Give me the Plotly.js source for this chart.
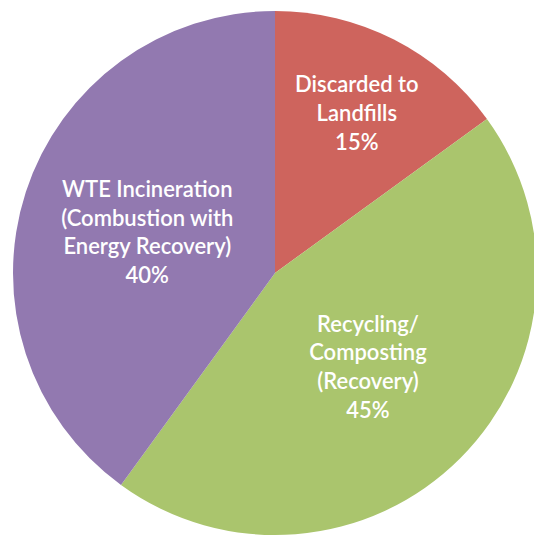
<!DOCTYPE html>
<html>
<head>
<meta charset="utf-8">
<script src="https://cdn.plot.ly/plotly-3.0.1.min.js"></script>
<style>
html,body{margin:0;padding:0;overflow:hidden;background:#fff;}
#chart{width:540px;height:540px;}
</style>
</head>
<body>
<div id="chart"></div>
<script>
const categories = ["Discarded to Landfills", "Recycling/ Composting (Recovery)", "WTE Incineration (Combustion with Energy Recovery)"];
const labelLines = ["Discarded to<br>Landfills", "Recycling/<br>Composting<br>(Recovery)", "WTE Incineration<br>(Combustion with<br>Energy Recovery)"];
const values = [15, 45, 40];
const colors = ["#CE645D", "#AAC56D", "#9279B0"];

const trace = {
  type: "pie",
  labels: categories,
  values: values,
  text: labelLines,
  texttemplate: "%{text}<br>%{percent:.0%}",
  textposition: "inside",
  insidetextorientation: "horizontal",
  sort: false,
  direction: "clockwise",
  rotation: 0,
  marker: {colors: colors, line: {width: 0}},
  textfont: {family: "Lato, 'Open Sans', sans-serif", size: 22, weight: 600, color: "#ffffff"},
  hoverinfo: "none"
};

Plotly.newPlot("chart", [trace], {
  width: 540, height: 540,
  margin: {l: 13, r: 3, t: 11, b: 5},
  showlegend: false,
  paper_bgcolor: "#ffffff"
}, {staticPlot: true});
</script>
</body>
</html>
